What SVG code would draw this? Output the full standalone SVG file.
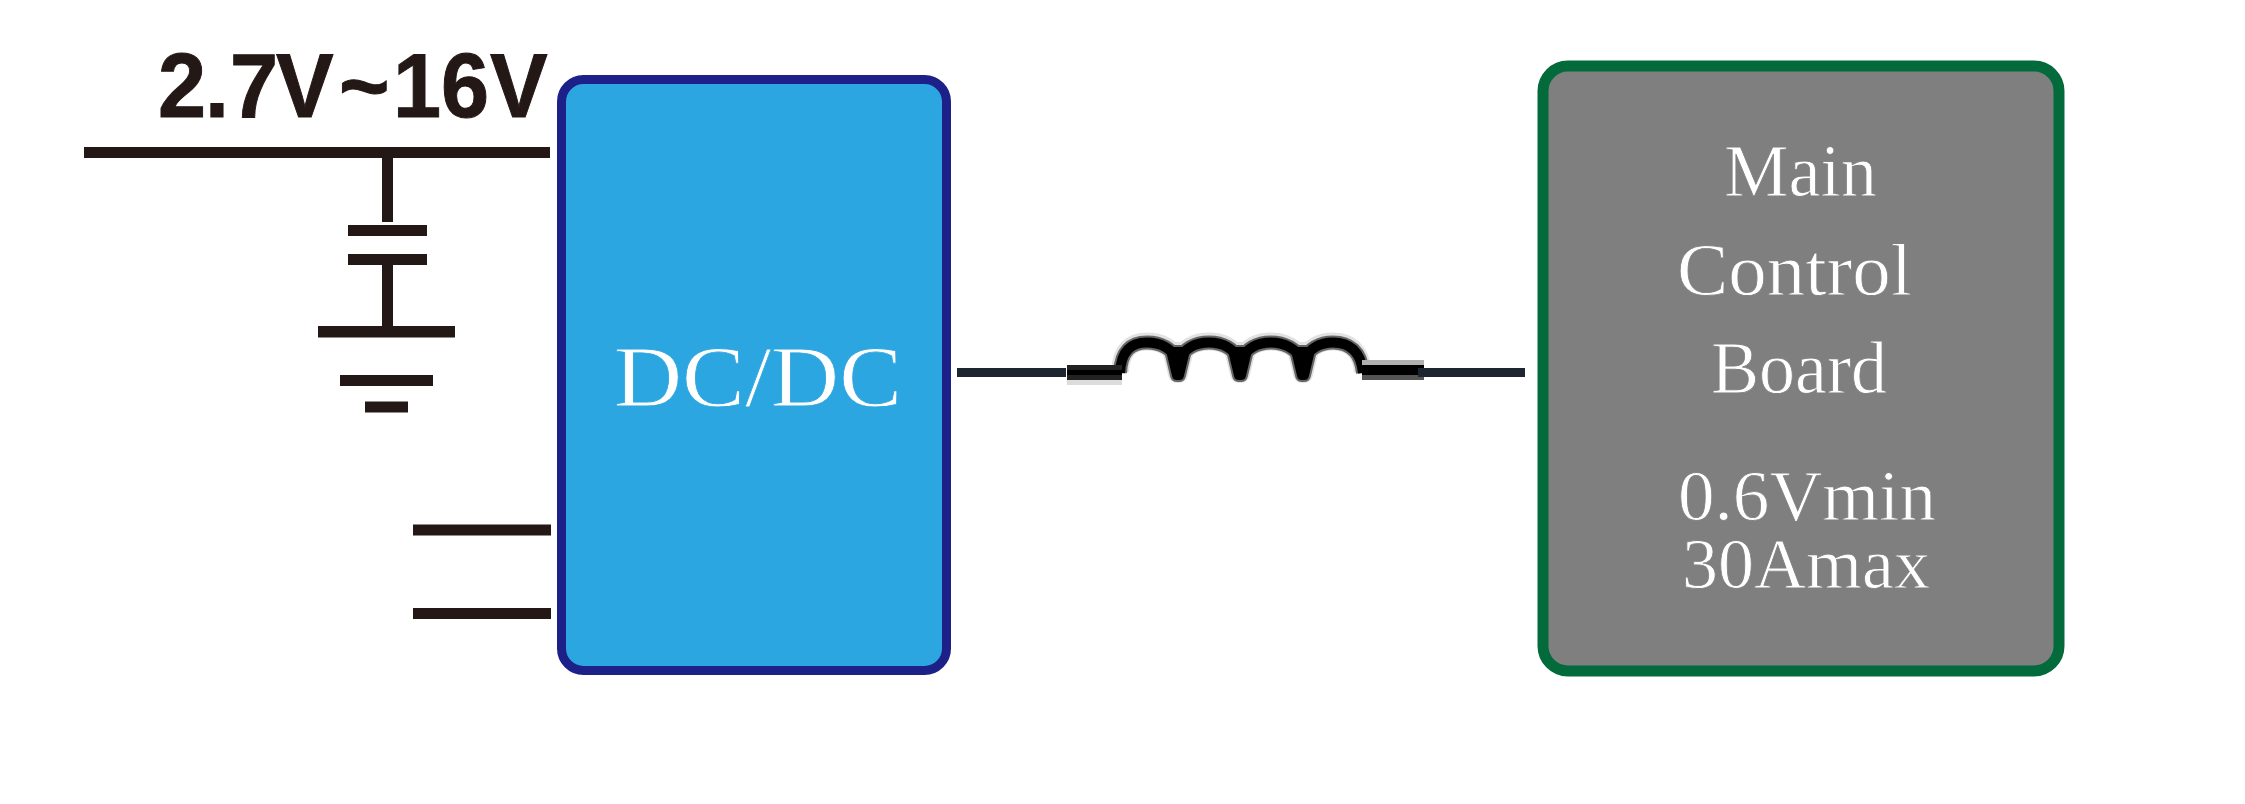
<svg xmlns="http://www.w3.org/2000/svg" width="2245" height="804" viewBox="0 0 2245 804">
<style>
.ink{fill:#231815}
.wire{fill:#1d2530}
.serif{font-family:"Liberation Serif",serif;fill:#fff;stroke-width:.8}
.on-blue{stroke:#2ca6e0}
.on-grey{stroke:#7f7f80}
.arcs{fill:none}
.coil-line{stroke-linejoin:round}
</style>
<defs>
<g id="coil">
<path class="arcs" d="M1120 373C1121 351 1131 342.500 1147 342.500C1161 342.500 1171 348 1178 360C1185 348 1195 342.500 1209 342.500C1223 342.500 1233 348 1240 360C1247 348 1257 342.500 1271 342.500C1285 342.500 1295 348 1303 360C1310 348 1320 342.500 1333 342.500C1349 342.500 1361 351 1363 373"/>
<path d="M1171.500 352H1184.500L1179 375H1177ZM1233.500 352H1246.500L1241 375H1239ZM1296.500 352H1309.500L1304 375H1302Z"/>
</g>
</defs>
<rect width="2245" height="804" fill="#fff"/>
<g id="inductor">
<use href="#coil" fill="#e2e2e2" stroke="#e2e2e2" stroke-width="18" class="coil-line" transform="translate(0 -1)"/>
<use href="#coil" fill="#666" stroke="#666" stroke-width="14" class="coil-line"/>
<use href="#coil" fill="#000" stroke="#000" stroke-width="10" class="coil-line"/>
<rect x="1067" y="380" width="55" height="5" fill="#dcdcdc"/>
<rect x="1067" y="365" width="55" height="15" fill="#222"/>
<rect x="1067" y="370" width="55" height="5" fill="#000"/>
<rect x="1362" y="360" width="62" height="5" fill="#b0b0b0"/>
<rect x="1362" y="365" width="62" height="10" fill="#000"/>
<rect x="1362" y="375" width="62" height="5" fill="#555"/>
</g>
<g id="connectors">
<rect class="wire" x="957" y="368" width="109" height="9"/>
<rect class="wire" x="1418" y="368" width="107" height="9"/>
<rect class="ink" x="84" y="147" width="466" height="11"/>
<rect class="ink" x="382" y="158" width="11" height="64"/>
<rect class="ink" x="382" y="264" width="11" height="63"/>
<rect class="ink" x="413" y="524.500" width="138" height="11"/>
<rect class="ink" x="413" y="608" width="138" height="11"/>
</g>
<g id="capacitor">
<rect class="ink" x="348" y="225" width="79" height="11"/>
<rect class="ink" x="348" y="254" width="79" height="11"/>
</g>
<g id="ground">
<rect class="ink" x="318" y="326" width="137" height="11.500"/>
<rect class="ink" x="340" y="375" width="93" height="11"/>
<rect class="ink" x="365" y="401.500" width="43" height="11"/>
</g>
<g id="voltage-label">
<text transform="translate(0 116.500) scale(.95 1)" x="166.300 215.800 242 290.500 356.800 413.700 464.200 515.800" y="0" font-family="Liberation Sans, sans-serif" font-weight="700" font-size="91" class="ink" stroke="#231815" stroke-width="1">2.7V~16V</text>
</g>
<g id="dcdc">
<rect x="561.500" y="79.500" width="385" height="591" rx="22" fill="#2ca6e0" stroke="#1d2088" stroke-width="9"/>
<text class="serif on-blue" x="614" y="405.500" font-size="86" textLength="288" lengthAdjust="spacingAndGlyphs">DC/DC</text>
</g>
<g id="main-control-board">
<rect x="1543" y="66" width="516" height="605" rx="25" fill="#7f7f80" stroke="#036a3b" stroke-width="11"/>
<text class="serif on-grey" x="1724" y="196" font-size="74" textLength="153" lengthAdjust="spacingAndGlyphs">Main</text>
<text class="serif on-grey" x="1677" y="295" font-size="74" textLength="235" lengthAdjust="spacingAndGlyphs">Control</text>
<text class="serif on-grey" x="1711" y="393" font-size="74" textLength="176" lengthAdjust="spacingAndGlyphs">Board</text>
<text class="serif on-grey" x="1678" y="519.500" font-size="72" textLength="258" lengthAdjust="spacingAndGlyphs">0.6Vmin</text>
<text class="serif on-grey" x="1682" y="588" font-size="72" textLength="248" lengthAdjust="spacingAndGlyphs">30Amax</text>
</g>
</svg>
